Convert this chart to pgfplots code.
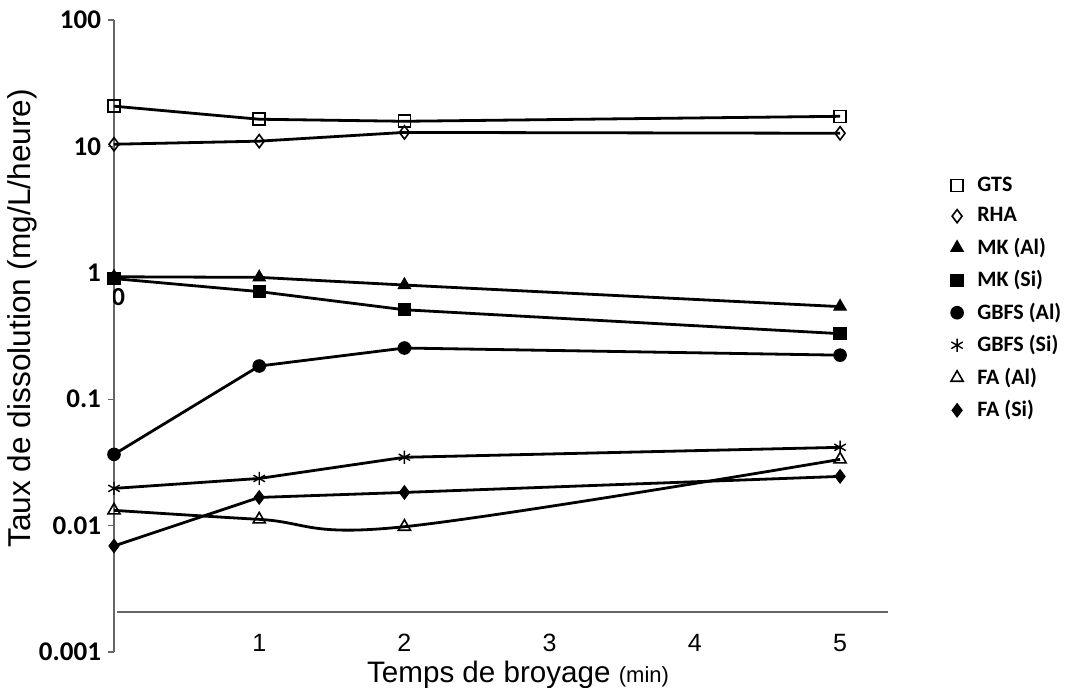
\documentclass[border=0pt]{standalone}
\usepackage{fontspec}
\setmainfont{Liberation Sans}
\newfontfamily\calibri{Carlito}
\usepackage{pgfplots}
\pgfplotsset{compat=1.18}
\begin{document}
\begin{tikzpicture}
\useasboundingbox (-57pt,-18pt) rectangle (484.5pt,326pt);
\begin{axis}[
  at={(0,0)}, anchor=south west,
  scale only axis, width=387pt, height=316pt,
  xmin=0, xmax=5.33, ymode=log, ymin=0.001, ymax=100,
  axis lines=left,
  x axis line style={draw=none},
  y axis line style={-, draw=black!60, line width=0.9pt},
  xtick={1,2,3,4,5}, xticklabels={1,2,3,4,5},
  x tick style={draw=none},
  xticklabel style={font=\fontsize{12.5}{14}\selectfont, yshift=15.5pt},
  ytick={0.001,0.01,0.1,1,10,100},
  yticklabels={0.001,0.01,0.1,1,10,100},
  yminorticks=false,
  yticklabel style={font=\calibri\bfseries\fontsize{13.5}{15}\selectfont},
  tick align=outside, major tick length=3pt,
  y tick style={draw=black!60, line width=0.6pt},
  xlabel={Temps de broyage {\fontsize{11}{12}\selectfont(min)}},
  xlabel style={font=\fontsize{14.8}{16}\selectfont, at={(axis description cs:0.522,-0.036)}, anchor=center},
  ylabel={Taux de dissolution (mg/L/heure)},
  ylabel style={font=\fontsize{15.8}{17}\selectfont, at={(axis description cs:-0.118,0.528)}, anchor=center, rotate=0},
  legend style={at={(axis description cs:1.073,0.765)}, anchor=north west, draw=none,
    font=\calibri\bfseries\fontsize{11}{12}\selectfont, row sep=2.6pt,
    /tikz/every odd column/.append style={column sep=5pt}},
  legend cell align=left,
  legend image code/.code={\draw[#1] plot coordinates {(0.15cm,0cm)};},
  every axis plot/.append style={black, line width=1.4pt, sharp plot},
]
\draw[draw=black!60, line width=0.9pt] (axis cs:0.02,0.002075) -- (axis cs:5.33,0.002075);
\node[font=\calibri\bfseries\fontsize{13}{14}\selectfont] at (axis cs:0.03,0.64) {0};

\addplot[mark=square, mark size=3pt, mark options={fill=white, line width=0.8pt}]
  coordinates {(0,20.8)(1,16.4)(2,15.8)(5,17.3)};
\addlegendentry{GTS}
\addplot[mark=diamond, mark size=3.3pt, mark options={fill=white, line width=0.8pt}]
  coordinates {(0,10.4)(1,11.0)(2,12.9)(5,12.7)};
\addlegendentry{RHA}
\addplot[mark=triangle*, mark size=3.5pt, mark options={fill=black, line width=0.6pt}]
  coordinates {(0,0.93)(1,0.92)(2,0.80)(5,0.54)};
\addlegendentry{MK (Al)}
\addplot[mark=square*, mark size=3pt, mark options={fill=black, line width=0.6pt}]
  coordinates {(0,0.90)(1,0.71)(2,0.51)(5,0.33)};
\addlegendentry{MK (Si)}
\addplot[mark=*, mark size=3.1pt, mark options={fill=black, line width=0.6pt}]
  coordinates {(0,0.0366)(1,0.183)(2,0.254)(5,0.223)};
\addlegendentry{GBFS (Al)}
\addplot[mark=asterisk, mark size=3.3pt, mark options={line width=0.7pt}]
  coordinates {(0,0.0197)(1,0.0236)(2,0.0347)(5,0.0416)};
\addlegendentry{GBFS (Si)}
\addplot[mark=triangle, mark size=3.5pt, smooth, tension=0.6, mark options={fill=white, line width=0.8pt}]
  coordinates {(0,0.0132)(1,0.0112)(2,0.0098)(5,0.0334)};
\addlegendentry{FA (Al)}
\addplot[mark=diamond*, mark size=3.3pt, mark options={fill=black, line width=0.6pt}]
  coordinates {(0,0.0069)(1,0.0167)(2,0.0183)(5,0.0245)};
\addlegendentry{FA (Si)}
\end{axis}
\end{tikzpicture}
\end{document}
